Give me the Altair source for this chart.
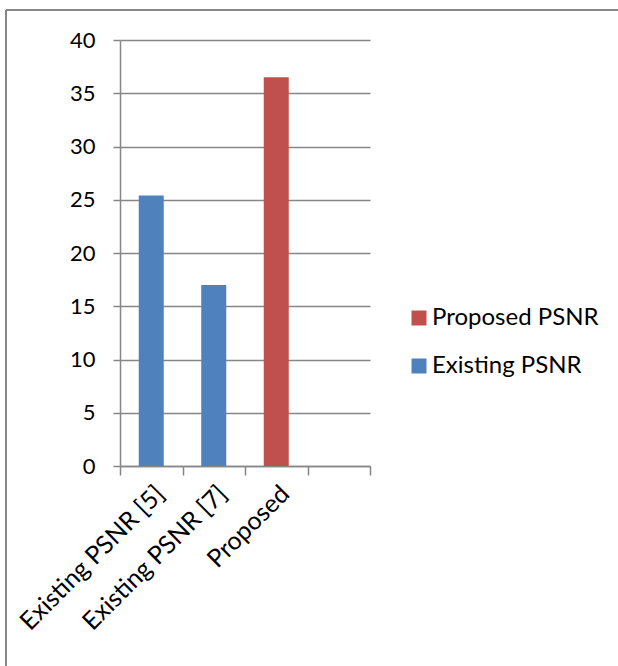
import altair as alt
import pandas as pd

categories = ["Existing PSNR [5]", "Existing PSNR [7]", "Proposed", ""]
bar_categories = ["Existing PSNR [5]", "Existing PSNR [7]", "Proposed"]
values = [25.4, 17.0, 36.5]
series = ["Existing PSNR", "Existing PSNR", "Proposed PSNR"]
legend_order = ["Proposed PSNR", "Existing PSNR"]
colors = ["#C0504D", "#4F81BD"]
y_ticks = [0, 5, 10, 15, 20, 25, 30, 35, 40]

df = pd.DataFrame({"cat": bar_categories, "val": values, "series": series})

FONT = "Lato"
GRAY = "#868686"

bars = alt.Chart(df).mark_bar(size=25).encode(
    x=alt.X("cat:N", sort=categories,
            scale=alt.Scale(domain=categories, paddingInner=0, paddingOuter=0),
            axis=alt.Axis(title=None, labelAngle=-45, labelFontSize=25, labelFont=FONT,
                          labelColor="black", domainColor=GRAY, domainWidth=1.5,
                          tickColor=GRAY, tickWidth=1.5, tickSize=9, tickBand="extent",
                          labelPadding=6, grid=False, labelOverlap=False, labelLimit=400)),
    y=alt.Y("val:Q", scale=alt.Scale(domain=[0, 40], nice=False),
            axis=alt.Axis(title=None, values=y_ticks, labelFontSize=22, labelFont=FONT,
                          labelColor="black", domainColor=GRAY, domainWidth=1.5,
                          tickColor=GRAY, tickWidth=1.5, tickSize=7, labelPadding=18,
                          grid=True, gridColor=GRAY, gridWidth=1.6)),
    color=alt.Color("series:N", scale=alt.Scale(domain=legend_order, range=colors),
                    legend=alt.Legend(title=None, orient="none", legendX=287, legendY=266,
                                      symbolType="square", symbolSize=225, symbolStrokeWidth=0,
                                      labelFontSize=24, labelFont=FONT, labelColor="black",
                                      rowPadding=24, labelOffset=1, labelLimit=400)),
)

frame_top = alt.Chart(alt.Data(values=[{}])).mark_rule(color=GRAY, strokeWidth=2).encode(
    x=alt.value(-114), x2=alt.value(520), y=alt.value(-30))
frame_left = alt.Chart(alt.Data(values=[{}])).mark_rule(color=GRAY, strokeWidth=2).encode(
    x=alt.value(-114), y=alt.value(-30), y2=alt.value(640))

chart = alt.layer(frame_top, frame_left, bars).properties(
    width=250, height=426,
    autosize=alt.AutoSizeParams(type="none"),
    padding={"left": 120, "top": 40, "right": 248, "bottom": 200},
    background="white",
).configure_view(stroke=None)

chart.save("out.html", embed_options={"renderer": "svg", "actions": False})
